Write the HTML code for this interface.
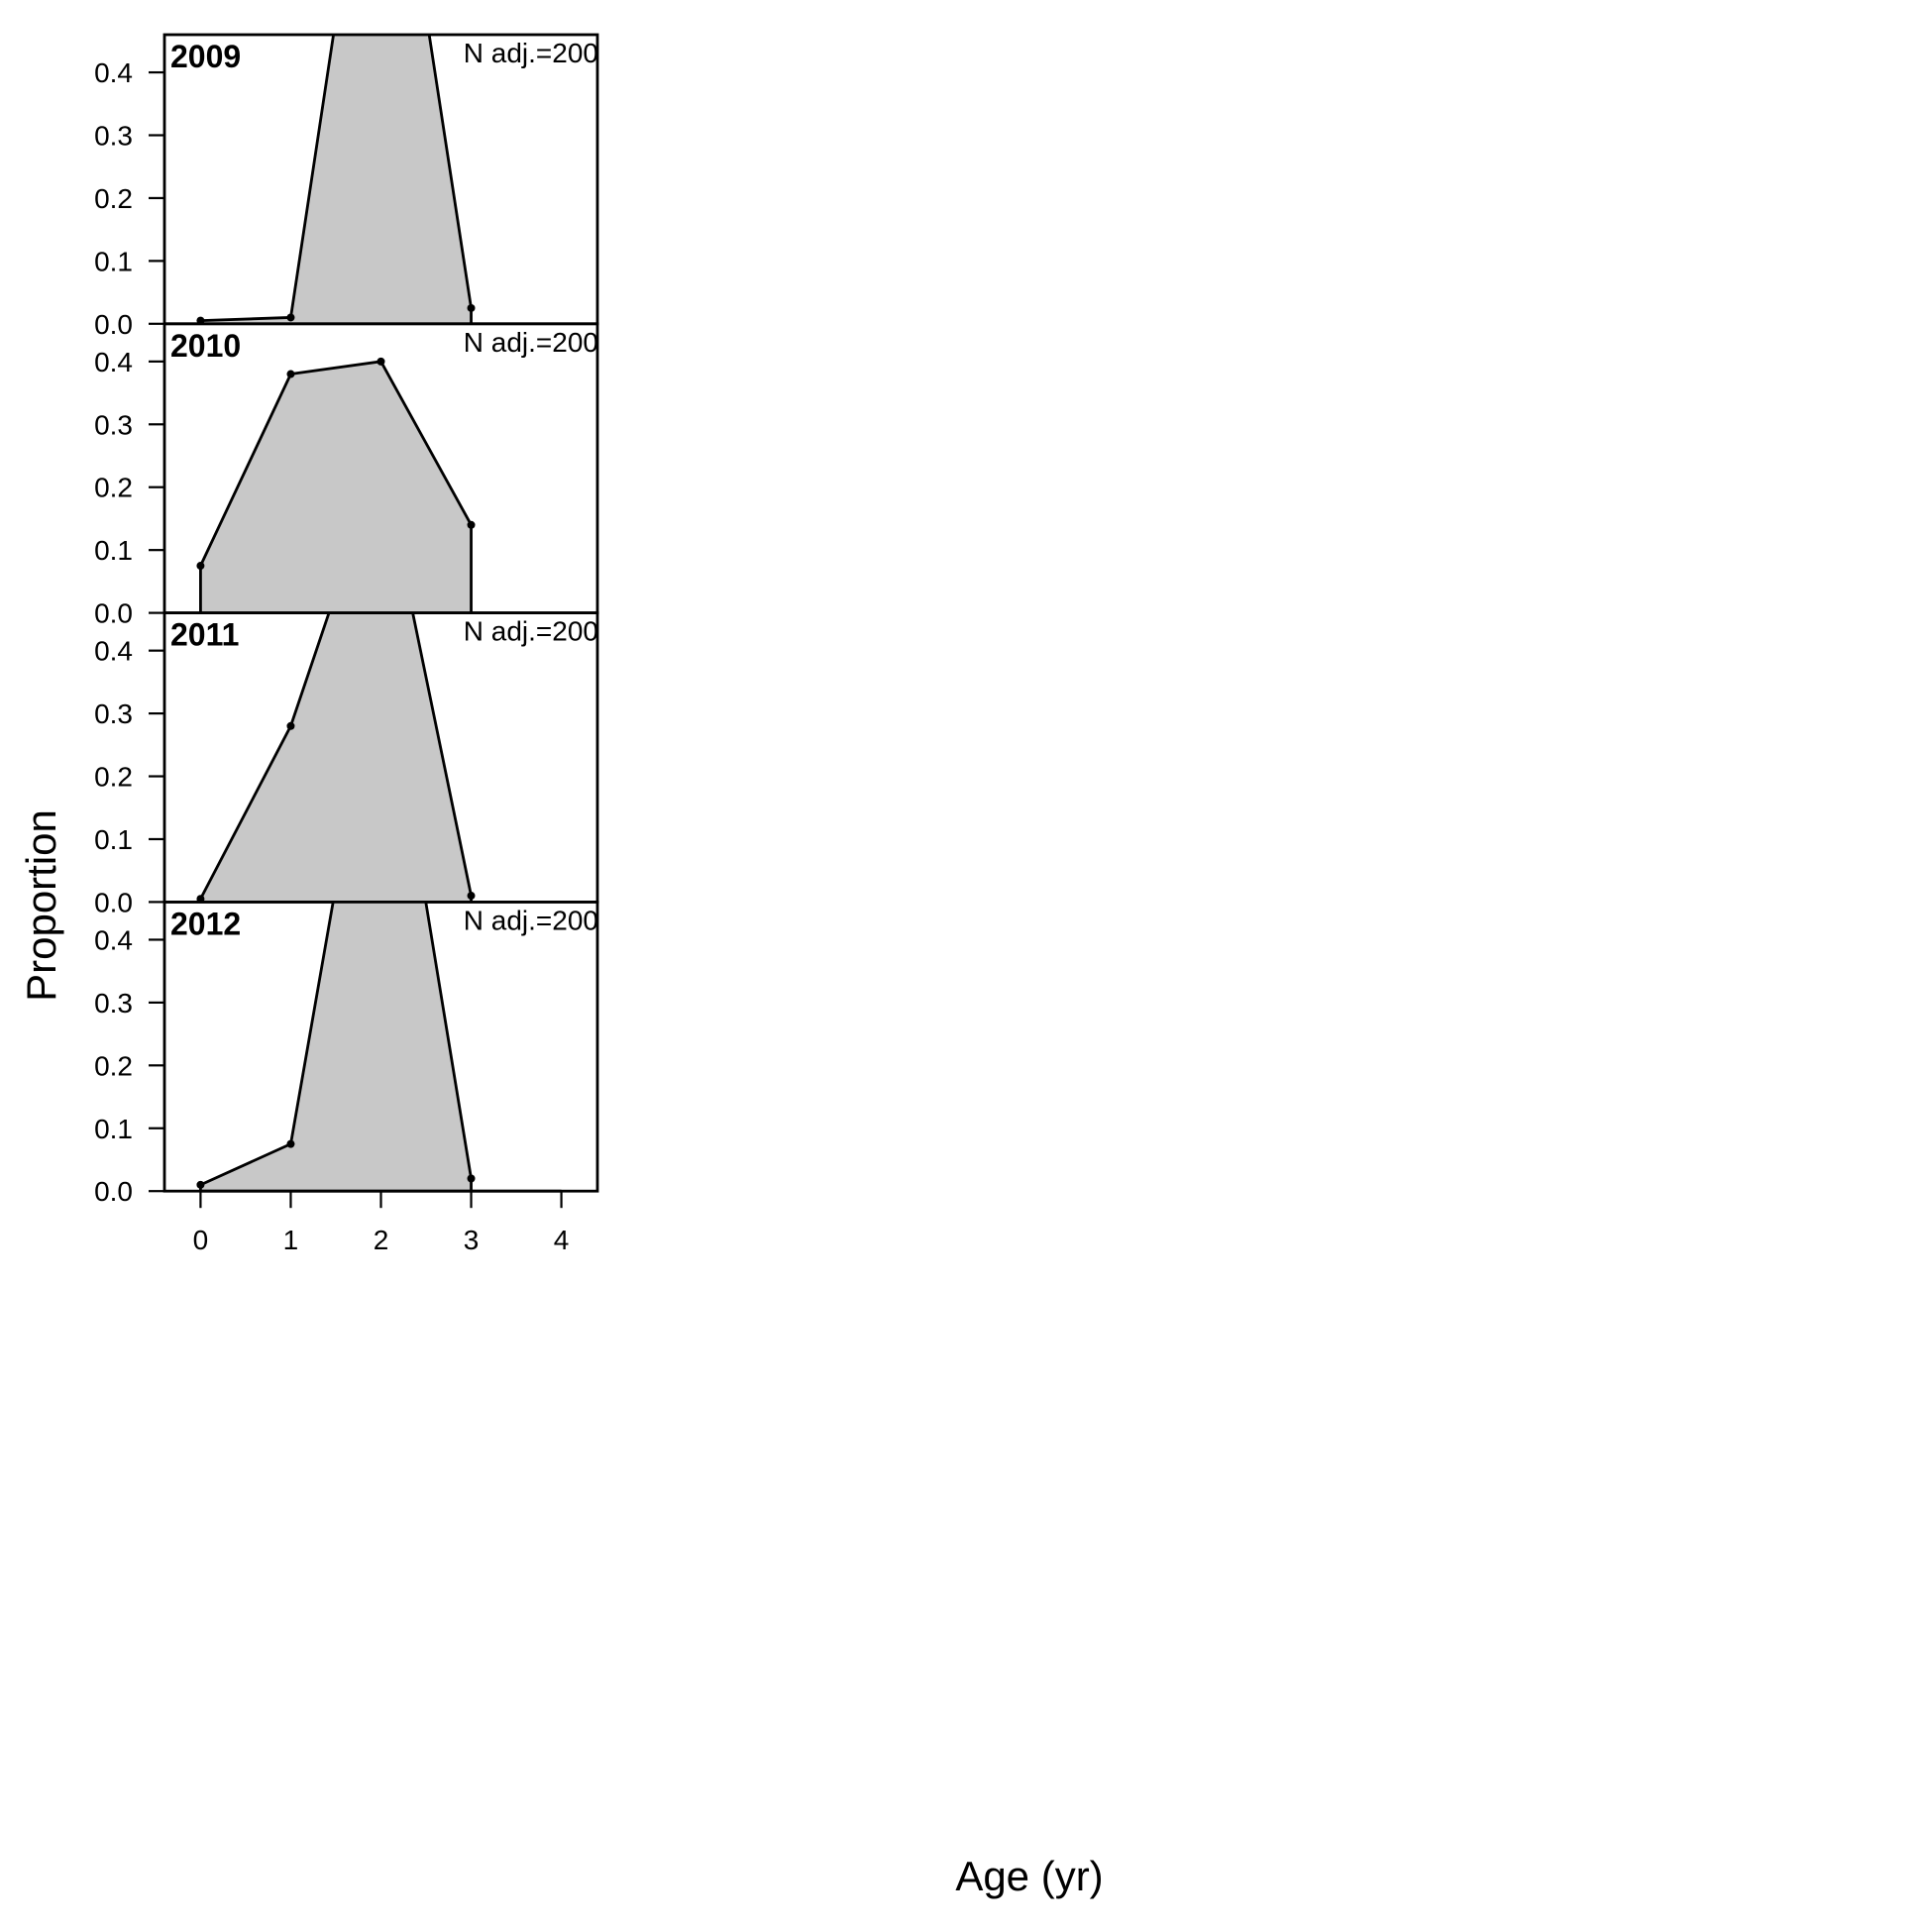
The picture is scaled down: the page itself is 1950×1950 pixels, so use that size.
<!DOCTYPE html>
<html><head><meta charset="utf-8"><style>html,body{margin:0;padding:0;background:#fff}svg{display:block}</style></head>
<body>
<svg id="chart" width="1950" height="1950" xmlns="http://www.w3.org/2000/svg"></svg>
<script>
const years = ["2009","2010","2011","2012"];
const ages = [0,1,2,3];
const prop2009 = [0.005,0.01,0.96,0.025];
const prop2010 = [0.075,0.38,0.40,0.14];
const prop2011 = [0.005,0.28,0.705,0.01];
const prop2012 = [0.01,0.075,0.895,0.02];
const series = [prop2009,prop2010,prop2011,prop2012];
const yTicks = [0,0.1,0.2,0.3,0.4];
const yTickLabels = ["0.0","0.1","0.2","0.3","0.4"];
const xTicks = [0,1,2,3,4];
const nLabel = "N adj.=200";

const NS="http://www.w3.org/2000/svg";
const svg=document.getElementById('chart');
const L=166,R=603,T=35,PH=291.8;
const xMin=-0.4,xMax=4.4,yMax=0.46;
function xs(v){return L+(v-xMin)/(xMax-xMin)*(R-L);}
function ys(v,i){const b=T+(i+1)*PH;return b-v/yMax*PH;}
function mk(tag,attrs,parent){const e=document.createElementNS(NS,tag);for(const k in attrs)e.setAttribute(k,attrs[k]);(parent||svg).appendChild(e);return e;}
const FONT='"Liberation Sans", Arial, sans-serif';

series.forEach((vals,i)=>{
  const top=T+i*PH, bot=top+PH;
  const g=mk('g',{});
  
  
  const cp=mk('clipPath',{id:'clip'+i},g);
  mk('rect',{x:L,y:top,width:R-L,height:PH},cp);
  const cg=mk('g',{'clip-path':'url(#clip'+i+')'},g);
  let pts=xs(ages[0])+','+bot+' ';
  ages.forEach((a,j)=>{pts+=xs(a)+','+ys(vals[j],i)+' ';});
  pts+=xs(ages[ages.length-1])+','+bot;
  const poly=mk('polygon',{points:pts,fill:'#c8c8c8',stroke:'none'},cg);
  
  
  const lp=ages.map((a,j)=>xs(a)+','+ys(vals[j],i)).join(' ');
  const pl=mk('polyline',{points:xs(ages[0])+','+bot+' '+lp+' '+xs(ages[ages.length-1])+','+bot,fill:'none',stroke:'#000','stroke-width':2.8,'stroke-linejoin':'round'},cg);
  
  
  ages.forEach((a,j)=>{
    const c=mk('circle',{cx:xs(a),cy:ys(vals[j],i),r:4,fill:'#000'},cg);
    
    
  });
  const fr=mk('rect',{x:L,y:top,width:R-L,height:PH,fill:'none',stroke:'#000','stroke-width':2.8},g);
  
  
  yTicks.forEach((t,k)=>{
    const y=ys(t,i);
    const tl=mk('line',{x1:150,x2:L,y1:y,y2:y,stroke:'#000','stroke-width':2.2},g);
    
    
    const tx=mk('text',{x:134,y:y+10,'text-anchor':'end','font-family':FONT,'font-size':28},g);
    tx.textContent=yTickLabels[k];
    
    
  });
  const yr=mk('text',{x:172,y:top+33,'font-family':FONT,'font-size':32,'font-weight':'bold'},g);
  yr.textContent=years[i];
  
  
  const nl=mk('text',{x:604,y:top+28,'text-anchor':'end','font-family':FONT,'font-size':28},g);
  nl.textContent=nLabel;
  
  
});
const bottom=T+4*PH;
mk('line',{x1:xs(xTicks[0]),x2:xs(xTicks[xTicks.length-1]),y1:bottom,y2:bottom,stroke:'#000','stroke-width':2.8});
xTicks.forEach(t=>{
  const tl=mk('line',{x1:xs(t),x2:xs(t),y1:bottom,y2:bottom+17,stroke:'#000','stroke-width':2.2});
  
  
  const tx=mk('text',{x:xs(t),y:bottom+59,'text-anchor':'middle','font-family':FONT,'font-size':28});
  tx.textContent=String(t);
  
  
});
const xt=mk('text',{x:1039,y:1908,'text-anchor':'middle','font-family':FONT,'font-size':42});
xt.textContent='Age (yr)';


const yt=mk('text',{x:0,y:0,'text-anchor':'middle','font-family':FONT,'font-size':42,transform:'translate(56,914) rotate(-90)'});
yt.textContent='Proportion';


</script>
</body></html>
